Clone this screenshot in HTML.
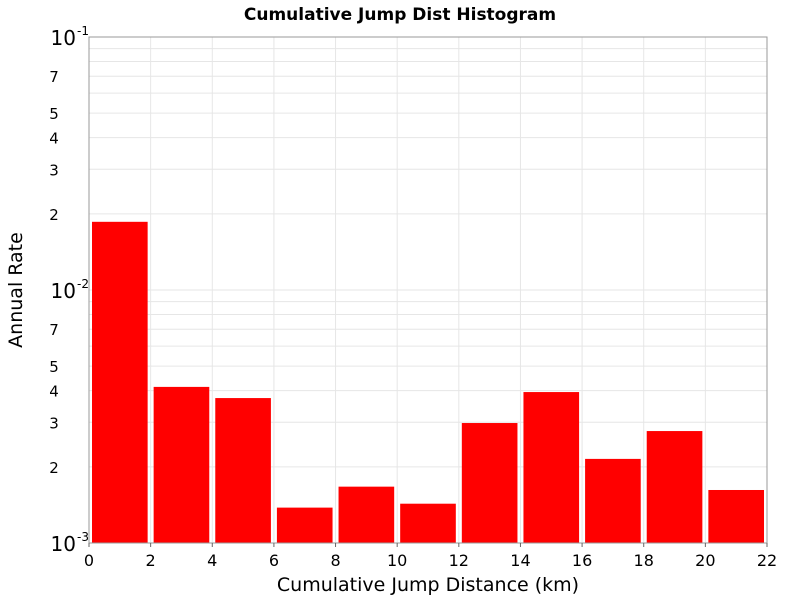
<!DOCTYPE html>
<html><head><meta charset="utf-8"><style>
body{margin:0;background:#fff;font-family:"DejaVu Sans","Liberation Sans",sans-serif;}
svg text{font-family:"DejaVu Sans","Liberation Sans",sans-serif;}
</style></head><body>
<svg id="chart" width="800" height="600">
<rect x="0" y="0" width="800" height="600" fill="#fff"/>
<text x="400" y="20" text-anchor="middle" font-size="17" font-weight="bold">Cumulative Jump Dist Histogram</text>
<text x="428" y="591" text-anchor="middle" font-size="19">Cumulative Jump Distance (km)</text>
<text transform="translate(22,290) rotate(-90)" text-anchor="middle" font-size="19">Annual Rate</text>
<g id="grid"></g><g id="bars"></g><g id="axes"></g>
</svg>
<script>
const binStarts=[0,2,4,6,8,10,12,14,16,18,20];
const rates=[0.0186,0.00414,0.00374,0.00138,0.00167,0.00143,0.00298,0.00395,0.00215,0.00277,0.00162];
const xTicks=[0,2,4,6,8,10,12,14,16,18,20,22];
const minorLabels=[2,3,4,5,7];
const decades=[-3,-2,-1];
const L=89,R=767,T=37,B=543;
const NS="http://www.w3.org/2000/svg";
function sx(v){return L+(v-0)/(22-0)*(R-L);}
function sy(v){return B-(Math.log10(v)+3)/2*(B-T);}
function mk(tag,attrs,parent){const e=document.createElementNS(NS,tag);for(const k in attrs)e.setAttribute(k,attrs[k]);parent.appendChild(e);return e;}
const grid=document.getElementById('grid'),bars=document.getElementById('bars'),axes=document.getElementById('axes');
// grid
for(const d of [-3,-2]){for(let m=1;m<=9;m++){const y=sy(m*Math.pow(10,d));
 const g=mk('line',{x1:L,x2:R,y1:y,y2:y,stroke:'#e6e6e6','stroke-width':1},grid);
 
 }}
for(const t of xTicks){const x=sx(t);const g=mk('line',{x1:x,x2:x,y1:T,y2:B,stroke:'#e6e6e6','stroke-width':1},grid);
 
 }
// bars
binStarts.forEach((s,i)=>{const x0=sx(s)+3,x1=sx(s+2)-3,y=sy(rates[i]);
 const r=mk('rect',{x:x0,y:y,width:x1-x0,height:B-y,fill:'#ff0000'},bars);
 
 });
// frame
const f=mk('rect',{x:L,y:T,width:R-L,height:B-T,fill:'none',stroke:'#999','stroke-width':1},axes);


// x ticks
for(const t of xTicks){const x=sx(t);
 mk('line',{x1:x,x2:x,y1:B,y2:B+4,stroke:'#666'},axes);
 const tx=mk('text',{x:x,y:B+23,'text-anchor':'middle','font-size':16},axes);tx.textContent=t;
 
 }
// y major
for(const d of decades){const y=sy(Math.pow(10,d));
 const tx=mk('text',{x:L-13,y:y+8,'text-anchor':'end','font-size':20},axes);
 tx.textContent='10';
 
 
 const sp=mk('text',{x:L-12,y:y-2,'font-size':12},axes);sp.textContent=String(d);
 
 }
for(const d of [-3,-2]){for(const m of minorLabels){const y=sy(m*Math.pow(10,d));
 const tx=mk('text',{x:L-35,y:y+6,'text-anchor':'middle','font-size':15},axes);tx.textContent=m;
 
 }}
</script>
</body></html>
